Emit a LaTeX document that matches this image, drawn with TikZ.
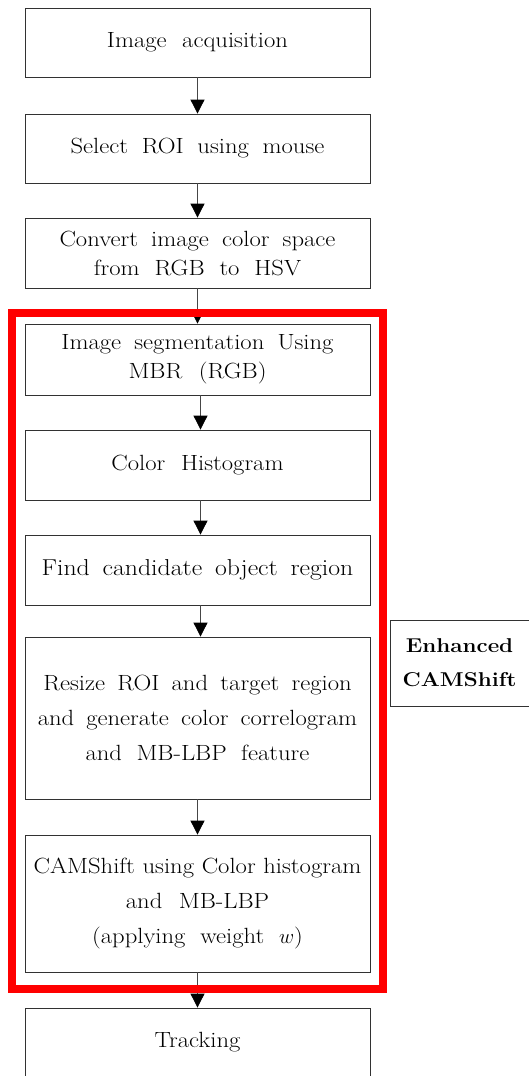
\documentclass[tikz,border=0pt]{standalone}
\usepackage{fontspec}
\setmainfont{Latin Modern Roman}[FakeStretch=1.12]
\usetikzlibrary{arrows.meta}
\definecolor{boxline}{RGB}{50,50,50}
\definecolor{arrline}{RGB}{70,70,70}
\definecolor{frame}{RGB}{255,0,0}
\newcommand{\wsp}{\spaceskip=0.52em plus 0.1em\relax}
\newcommand{\nsp}{\spaceskip=0.33em plus 0.1em\relax}
\begin{document}
\begin{tikzpicture}[x=1pt,y=-1pt,
  stepbox/.style={draw=boxline, line width=0.8pt, rectangle, minimum width=345pt, inner sep=0pt,
    align=center, font=\fontsize{22}{29}\selectfont, text width=344pt},
  flow/.style={draw=arrline, line width=0.8pt, -{Triangle[width=14pt,length=14pt,black]}},
]
\useasboundingbox (0,0) rectangle (528,1076);
\node[stepbox, minimum height=69pt] (b1) at (197.5,42.5) {\wsp Image acquisition};
\node[stepbox, minimum height=69pt] (b2) at (197.5,148.5) {\wsp Select ROI using mouse};
\node[stepbox, minimum height=70pt] (b3) at (197.5,253) {\wsp Convert image color space\\from RGB to HSV};
\node[stepbox, minimum height=71pt] (b4) at (197.5,359.5) {\wsp Image segmentation Using\\MBR (RGB)};
\node[stepbox, minimum height=70pt] (b5) at (197.5,465) {\wsp Color Histogram};
\node[stepbox, minimum height=70pt, font=\fontsize{23}{29}\selectfont] (b6) at (197.5,570) {\wsp Find candidate object region};
\node[stepbox, minimum height=162pt, font=\fontsize{22}{35}\selectfont] (b7) at (197.5,718) {\wsp Resize ROI and target region\\and generate color correlogram\\and MB-LBP feature};
\node[stepbox, minimum height=137pt, font=\fontsize{22}{35}\selectfont] (b8) at (197.5,903.5) {\nsp CAMShift using Color histogram\\\wsp and MB-LBP\\(applying weight $w$)};
\node[stepbox, minimum height=69pt] (b9) at (197.5,1042.5) {\wsp Tracking};
\node[draw=boxline, line width=0.8pt, rectangle, minimum width=139pt, minimum height=86pt, inner sep=0pt,
  align=center, font=\fontsize{20}{34}\selectfont\bfseries] (ec) at (459.5,663) {Enhanced\\CAMShift};
\draw[flow] (b1) -- (b2);
\draw[flow] (b2) -- (b3);
\draw[flow] (b3) -- (b4);
\draw[flow] ([xshift=3pt]b4.south) -- ([xshift=3pt]b5.north);
\draw[flow] ([xshift=3pt]b5.south) -- ([xshift=3pt]b6.north);
\draw[flow] ([xshift=3pt]b6.south) -- ([xshift=3pt]b7.north);
\draw[flow] (b7) -- (b8);
\draw[flow] (b8) -- (b9);
\draw[draw=frame, line width=8pt] (12,313) rectangle (382.5,989);
\end{tikzpicture}
\end{document}
